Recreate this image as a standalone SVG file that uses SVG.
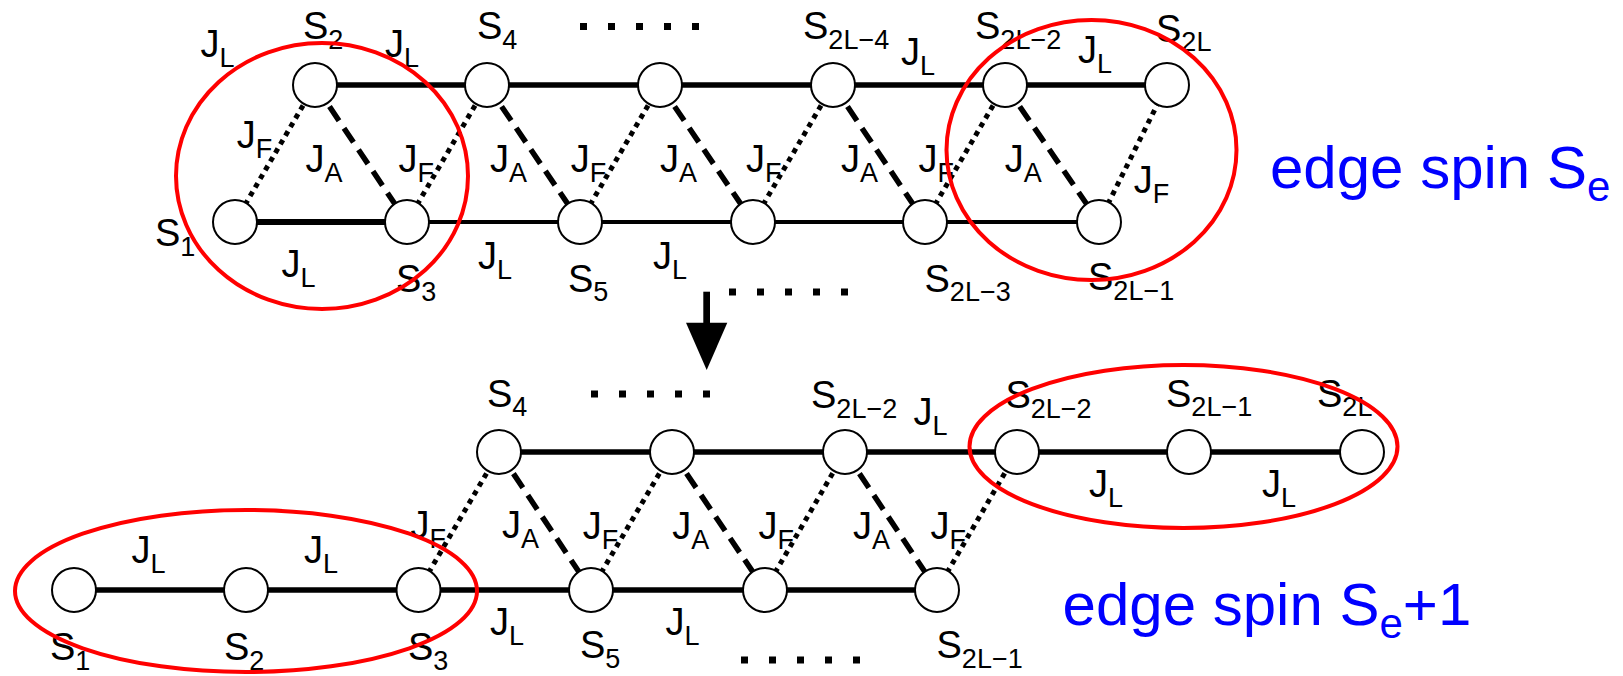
<svg xmlns="http://www.w3.org/2000/svg" width="1623" height="676" viewBox="0 0 1623 676">
<style>
.bg{fill:#fff}
.bond{stroke:#000;stroke-width:5.5;fill:none}
.thin{stroke-width:4}
.jf{stroke:#000;stroke-width:5;fill:none;stroke-dasharray:5 5}
.ja{stroke:#000;stroke-width:5.5;fill:none;stroke-dasharray:17 9}
.dots{stroke:#000;stroke-width:7;fill:none;stroke-dasharray:7 21}
.node circle{fill:#fff;stroke:#000;stroke-width:2}
.lbl{font-family:"Liberation Sans",Arial,Helvetica,sans-serif;font-size:38px;fill:#000}
.sub{font-size:27px}
.blue{font-family:"Liberation Sans",Arial,Helvetica,sans-serif;font-size:60px;fill:#0000ff}
.bsub{font-size:42px}
.red{fill:none;stroke:#ff0000;stroke-width:4}
</style>
<rect class="bg" x="0" y="0" width="1623" height="676"/>
<g id="connectors">
  <!-- top diagram -->
  <line class="bond" x1="315" y1="85" x2="1167" y2="85"/>
  <line class="bond" x1="235" y1="222" x2="407" y2="222" style="stroke-width:6"/>
  <line class="bond thin" x1="407" y1="222" x2="1099" y2="222"/>
  <line class="jf" x1="235" y1="222" x2="315" y2="85"/>
  <line class="jf" x1="407" y1="222" x2="487" y2="85"/>
  <line class="jf" x1="580" y1="222" x2="660" y2="85"/>
  <line class="jf" x1="753" y1="222" x2="833" y2="85"/>
  <line class="jf" x1="925" y1="222" x2="1005" y2="85"/>
  <line class="jf" x1="1099" y1="222" x2="1167" y2="85"/>
  <line class="ja" x1="315" y1="85" x2="407" y2="222"/>
  <line class="ja" x1="487" y1="85" x2="580" y2="222"/>
  <line class="ja" x1="660" y1="85" x2="753" y2="222"/>
  <line class="ja" x1="833" y1="85" x2="925" y2="222"/>
  <line class="ja" x1="1005" y1="85" x2="1099" y2="222"/>
  <!-- bottom diagram -->
  <line class="bond" x1="74" y1="590" x2="937" y2="590"/>
  <line class="bond" x1="499" y1="452" x2="1362" y2="452"/>
  <line class="jf" x1="418.5" y1="590" x2="499" y2="452"/>
  <line class="jf" x1="591" y1="590" x2="672" y2="452"/>
  <line class="jf" x1="765" y1="590" x2="845" y2="452"/>
  <line class="jf" x1="937" y1="590" x2="1017" y2="452"/>
  <line class="ja" x1="499" y1="452" x2="591" y2="590"/>
  <line class="ja" x1="672" y1="452" x2="765" y2="590"/>
  <line class="ja" x1="845" y1="452" x2="937" y2="590"/>
  <!-- transition arrow -->
  <g id="arrow">
    <rect x="703.3" y="291.7" width="6.7" height="32" fill="#000"/>
    <polygon points="686,322.7 727.3,322.7 706.7,370" fill="#000"/>
  </g>
</g>
<g id="ellipsis">
  <line class="dots" x1="580" y1="26.5" x2="700" y2="26.5"/>
  <line class="dots" x1="729" y1="292" x2="849" y2="292"/>
  <line class="dots" x1="591" y1="394" x2="711" y2="394"/>
  <line class="dots" x1="741" y1="660" x2="861" y2="660"/>
</g>
<g id="top-nodes">
  <g id="t-S1" class="node"><circle cx="235" cy="222" r="22"/><text class="lbl" x="155" y="246">S<tspan class="sub" dy="9.5">1</tspan></text></g>
  <g id="t-S2" class="node"><circle cx="315" cy="85" r="22"/><text class="lbl" x="303" y="39">S<tspan class="sub" dy="9.5">2</tspan></text></g>
  <g id="t-S3" class="node"><circle cx="407" cy="222" r="22"/><text class="lbl" x="396" y="291.7">S<tspan class="sub" dy="9.5">3</tspan></text></g>
  <g id="t-S4" class="node"><circle cx="487" cy="85" r="22"/><text class="lbl" x="477" y="39">S<tspan class="sub" dy="9.5">4</tspan></text></g>
  <g id="t-S5" class="node"><circle cx="580" cy="222" r="22"/><text class="lbl" x="568" y="291.7">S<tspan class="sub" dy="9.5">5</tspan></text></g>
  <g id="t-S6" class="node"><circle cx="660" cy="85" r="22"/></g>
  <g id="t-S7" class="node"><circle cx="753" cy="222" r="22"/></g>
  <g id="t-S2L-4" class="node"><circle cx="833" cy="85" r="22"/><text class="lbl" x="803" y="39">S<tspan class="sub" dy="9.5">2L−4</tspan></text></g>
  <g id="t-S2L-3" class="node"><circle cx="925" cy="222" r="22"/><text class="lbl" x="924.5" y="291.7">S<tspan class="sub" dy="9.5">2L−3</tspan></text></g>
  <g id="t-S2L-2" class="node"><circle cx="1005" cy="85" r="22"/><text class="lbl" x="975" y="39">S<tspan class="sub" dy="9.5">2L−2</tspan></text></g>
  <g id="t-S2L-1" class="node"><circle cx="1099" cy="222" r="22"/><text class="lbl" x="1088" y="290">S<tspan class="sub" dy="9.5">2L−1</tspan></text></g>
  <g id="t-S2L" class="node"><circle cx="1167" cy="85" r="22"/><text class="lbl" x="1156" y="41.7">S<tspan class="sub" dy="9.5">2L</tspan></text></g>
</g>
<g id="bottom-nodes">
  <g id="b-S1" class="node"><circle cx="74" cy="590" r="22"/><text class="lbl" x="50" y="660">S<tspan class="sub" dy="9.5">1</tspan></text></g>
  <g id="b-S2" class="node"><circle cx="246" cy="590" r="22"/><text class="lbl" x="224" y="660">S<tspan class="sub" dy="9.5">2</tspan></text></g>
  <g id="b-S3" class="node"><circle cx="418.5" cy="590" r="22"/><text class="lbl" x="408" y="660">S<tspan class="sub" dy="9.5">3</tspan></text></g>
  <g id="b-S4" class="node"><circle cx="499" cy="452" r="22"/><text class="lbl" x="487" y="406.7">S<tspan class="sub" dy="9.5">4</tspan></text></g>
  <g id="b-S5" class="node"><circle cx="591" cy="590" r="22"/><text class="lbl" x="580" y="658.3">S<tspan class="sub" dy="9.5">5</tspan></text></g>
  <g id="b-S6" class="node"><circle cx="672" cy="452" r="22"/></g>
  <g id="b-S7" class="node"><circle cx="765" cy="590" r="22"/></g>
  <g id="b-S2L-2a" class="node"><circle cx="845" cy="452" r="22"/><text class="lbl" x="811" y="408">S<tspan class="sub" dy="9.5">2L−2</tspan></text></g>
  <g id="b-S2L-1a" class="node"><circle cx="937" cy="590" r="22"/><text class="lbl" x="936.5" y="658">S<tspan class="sub" dy="9.5">2L−1</tspan></text></g>
  <g id="b-S2L-2b" class="node"><circle cx="1017" cy="452" r="22"/><text class="lbl" x="1005.4" y="408">S<tspan class="sub" dy="9.5">2L−2</tspan></text></g>
  <g id="b-S2L-1b" class="node"><circle cx="1189" cy="452" r="22"/><text class="lbl" x="1166" y="406.7">S<tspan class="sub" dy="9.5">2L−1</tspan></text></g>
  <g id="b-S2L" class="node"><circle cx="1362" cy="452" r="22"/><text class="lbl" x="1317" y="406.7">S<tspan class="sub" dy="9.5">2L</tspan></text></g>
</g>
<g id="coupling-labels" class="lbl">
  <!-- top diagram -->
  <text x="200.5" y="57">J<tspan class="sub" dy="10">L</tspan></text>
  <text x="385" y="57">J<tspan class="sub" dy="10">L</tspan></text>
  <text x="901" y="65">J<tspan class="sub" dy="10">L</tspan></text>
  <text x="1078" y="63">J<tspan class="sub" dy="10">L</tspan></text>
  <text x="236.7" y="148">J<tspan class="sub" dy="10">F</tspan></text>
  <text x="305.6" y="171.7">J<tspan class="sub" dy="10">A</tspan></text>
  <text x="398.6" y="171.7">J<tspan class="sub" dy="10">F</tspan></text>
  <text x="490" y="171.7">J<tspan class="sub" dy="10">A</tspan></text>
  <text x="570.7" y="171.7">J<tspan class="sub" dy="10">F</tspan></text>
  <text x="660" y="171.7">J<tspan class="sub" dy="10">A</tspan></text>
  <text x="746" y="171.7">J<tspan class="sub" dy="10">F</tspan></text>
  <text x="841" y="171.7">J<tspan class="sub" dy="10">A</tspan></text>
  <text x="918.6" y="171.7">J<tspan class="sub" dy="10">F</tspan></text>
  <text x="1004.7" y="171.7">J<tspan class="sub" dy="10">A</tspan></text>
  <text x="1133.8" y="193">J<tspan class="sub" dy="10">F</tspan></text>
  <text x="281.5" y="276.7">J<tspan class="sub" dy="10">L</tspan></text>
  <text x="478" y="269.3">J<tspan class="sub" dy="10">L</tspan></text>
  <text x="653" y="269">J<tspan class="sub" dy="10">L</tspan></text>
  <!-- bottom diagram -->
  <text x="913.4" y="425">J<tspan class="sub" dy="10">L</tspan></text>
  <text x="410.6" y="538">J<tspan class="sub" dy="10">F</tspan></text>
  <text x="502" y="538">J<tspan class="sub" dy="10">A</tspan></text>
  <text x="582.7" y="539">J<tspan class="sub" dy="10">F</tspan></text>
  <text x="672.3" y="539">J<tspan class="sub" dy="10">A</tspan></text>
  <text x="758.4" y="539">J<tspan class="sub" dy="10">F</tspan></text>
  <text x="853" y="539">J<tspan class="sub" dy="10">A</tspan></text>
  <text x="930.6" y="539">J<tspan class="sub" dy="10">F</tspan></text>
  <text x="131.6" y="563">J<tspan class="sub" dy="10">L</tspan></text>
  <text x="304" y="563">J<tspan class="sub" dy="10">L</tspan></text>
  <text x="1089" y="496.7">J<tspan class="sub" dy="10">L</tspan></text>
  <text x="1262" y="496.7">J<tspan class="sub" dy="10">L</tspan></text>
  <text x="490" y="635">J<tspan class="sub" dy="10">L</tspan></text>
  <text x="665.4" y="635">J<tspan class="sub" dy="10">L</tspan></text>
</g>
<g id="edge-groups">
  <ellipse class="red" cx="322" cy="176" rx="146" ry="133"/>
  <ellipse class="red" cx="1091.5" cy="150" rx="145" ry="130"/>
  <ellipse class="red" cx="246" cy="591" rx="231" ry="81"/>
  <ellipse class="red" cx="1183.5" cy="446.5" rx="214" ry="81.5"/>
</g>
<g id="captions">
  <text class="blue" x="1270" y="187.5">edge spin S<tspan class="bsub" dy="13">e</tspan></text>
  <text class="blue" x="1062.6" y="625">edge spin S<tspan class="bsub" dy="13">e</tspan><tspan dy="-13">+1</tspan></text>
</g>
</svg>
